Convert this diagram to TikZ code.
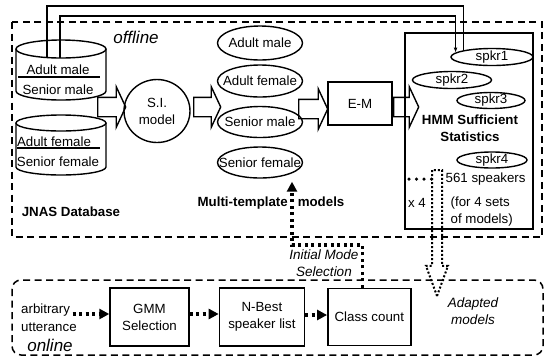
\documentclass[tikz,border=0pt]{standalone}
\usepackage{fontspec}
\setmainfont{Liberation Sans}
\usetikzlibrary{arrows.meta,positioning,calc,shapes.geometric,shapes.arrows}

\begin{document}
\begin{tikzpicture}[
  x=1pt, y=-1pt,
  font=\fontsize{13.3}{17}\selectfont,
  line width=1.4pt,
  box/.style={draw, align=center, inner sep=0pt},
  oval/.style={draw, ellipse, inner sep=0pt},
  fat/.style={single arrow, draw, fill=white, anchor=tail,
    inner xsep=0pt, inner ysep=9pt, single arrow head extend=10.5pt,
    single arrow tip angle=130},
  fatdot/.style={single arrow, draw, anchor=tail, line width=2pt,
    dash pattern=on 2pt off 2pt, inner xsep=0pt, inner ysep=4pt,
    single arrow head extend=6pt, single arrow tip angle=40},
  frame/.style={dash pattern=on 7pt off 4.5pt, line width=1.5pt},
  wire/.style={line width=1.2pt},
  flow/.style={line width=3.2pt, dash pattern=on 3pt off 3.5pt,
    -{Triangle[length=10pt,width=10pt]}},
  note/.style={font=\itshape\fontsize{13.5}{17.5}\selectfont, align=center},
  tag/.style={font=\itshape\fontsize{17}{20}\selectfont},
  heading/.style={font=\bfseries\fontsize{13.3}{17}\selectfont, align=center}
]
\useasboundingbox (0,0) rectangle (547,360);

% Frames
\draw[frame] (12,22) rectangle (542,237);
\draw[frame, rounded corners=9pt] (12,280) rectangle (543,355);
\node[tag] (offl) at (136,37) {offline};
\node[tag] (onl) at (50,345) {online};

% Wide arrows
\node[fat, minimum height=28pt] (ar1) at (97,107) {};
\node[fat, minimum height=27pt] (ar2) at (193,107) {};
\node[fat, minimum height=29pt] (ar3) at (298,109) {};
\node[fat, minimum height=25pt] (ar4) at (393,107) {};

% JNAS database
\draw[fill=white] (16,49) -- (16,91) arc[start angle=180, end angle=360, x radius=45pt, y radius=9pt] -- (106,49);
\draw[fill=white] (61,49) ellipse[x radius=45pt, y radius=9pt];
\draw[fill=white] (16,123) -- (16,167) arc[start angle=180, end angle=360, x radius=45pt, y radius=8pt] -- (106,123);
\draw[fill=white] (61,123) ellipse[x radius=45pt, y radius=8pt];
\draw[wire] (18,77) -- (100,77);
\draw[wire] (17,148) -- (100,148);
\node (am) at (58,70) {Adult male};
\node (sm) at (58,90) {Senior male};
\node (af) at (54,142) {Adult female};
\node (sf) at (58,162) {Senior female};
\node[heading] (jnas) at (71,212) {JNAS Database};
\coordinate (dbout1) at (47,57.5);
\coordinate (dbout2) at (60,57.5);

% S.I. model and templates
\node[oval, minimum width=66pt, minimum height=63pt, align=center] (si) at (157,111) {S.I.\\model};
\node[oval, minimum width=85pt, minimum height=34pt, label=center:Adult male] (tam) at (260,43) {};
\node[oval, minimum width=85pt, minimum height=32pt, label=center:Adult female] (taf) at (260,81) {};
\node[oval, minimum width=85pt, minimum height=31pt, label=center:Senior male] (tsm) at (260,122) {};
\node[oval, minimum width=85pt, minimum height=31pt, label=center:Senior female] (tsf) at (260,162.5) {};
\node[heading] (mt) at (271,203) {Multi-template\hspace{10pt}models};

% E-M and statistics
\node[box, minimum width=64pt, minimum height=43pt] (em) at (360,103.5) {E-M};
\node[box, minimum width=128pt, minimum height=196pt] (hmm) at (469,131) {};
\node[oval, minimum width=82pt, minimum height=17pt, label=center:spkr1] (s1) at (492,57) {};
\node[oval, minimum width=79pt, minimum height=17pt, label=center:spkr2] (s2) at (452,80) {};
\node[oval, minimum width=68pt, minimum height=16pt, label=center:spkr3] (s3) at (491,100.5) {};
\node[heading] (hss) at (470,128.5) {HMM Sufficient\\Statistics};
\node[oval, minimum width=70pt, minimum height=16pt, label=center:spkr4] (s4) at (492,160) {};
\node[anchor=west, inner sep=0pt] (n561) at (445,179) {561 speakers};
\node[anchor=west, inner sep=0pt, align=left] (sets) at (450,211.5) {(for 4 sets\\of models)};
\node[inner sep=0pt] (x4) at (417,203) {x 4};

% Adapted models
\node[fatdot, minimum height=126pt, rotate=-90] (ar5) at (437,169) {};
\draw[line width=3.5pt, dash pattern=on 0pt off 7.5pt, line cap=round] (409,179) -- (433,179);
\node[note] (adm) at (473,311) {Adapted\\models};

% Links to spkr1
\coordinate (railA) at (0,6);
\coordinate (railB) at (0,16);
\draw[wire] (dbout1) -- (dbout1 |- railA) -| (s1.167);
\draw[wire, -{Latex[length=5pt,width=4pt]}] (dbout2) -- (dbout2 |- railB) -| (s1.173);

% Online part
\node[box, minimum width=79pt, minimum height=58pt] (gmm) at (149.5,317) {GMM\\Selection};
\node[box, minimum width=85pt, minimum height=58pt, right=29pt of gmm] (nbest) {N-Best\\speaker list};
\node[box, minimum width=83pt, minimum height=57pt, right=22pt of nbest] (ccount) {Class count};
\node[anchor=west, inner sep=0pt] (arb) at (20.5,310) {arbitrary};
\node[anchor=west, inner sep=0pt] (utt) at (20.5,327) {utterance};

% Dotted flows
\coordinate (gin) at ([yshift=3pt]gmm.west);
\draw[flow] ($(arb.east |- gin)+(2,0)$) -- (gin);
\draw[flow] ([yshift=3pt]gmm.east) -- ([yshift=3pt]nbest.west);
\draw[flow] ([yshift=2pt]nbest.east) -- ([yshift=2pt]ccount.west);
\coordinate (ccup) at ([xshift=-7pt]ccount.north);
\coordinate (ims) at (292,245);
\draw[flow, shorten >=3pt] (ccup) |- (ims) -- (ims |- tsf.south);
\node[note] (imsel) at (324,263) {Initial Mode\\Selection};

\end{tikzpicture}
\end{document}
